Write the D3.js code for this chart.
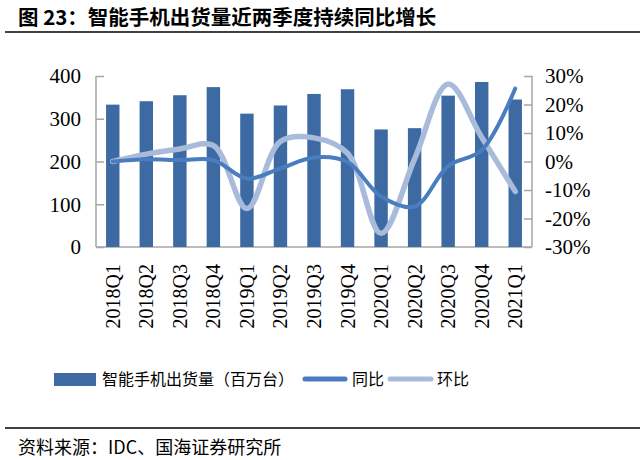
<!DOCTYPE html>
<meta charset="utf-8">
<script src="https://d3js.org/d3.v7.min.js"></script>
<style>
  body { margin: 0; background: #fff; }
  svg { display: block; }
</style>
<body>
<div id="chart"></div>
<script>
// quarters, shipments (million units), YoY and QoQ (%)
var quarters = ["2018Q1", "2018Q2", "2018Q3", "2018Q4", "2019Q1", "2019Q2", "2019Q3",
                "2019Q4", "2020Q1", "2020Q2", "2020Q3", "2020Q4", "2021Q1"];
var shipments = [333, 341, 355, 374, 312, 331, 358, 369, 275, 278, 354, 386, 345];
var yoy = [0, 0.8, 0.5, 0.5, -6.0, -2.4, 1.4, -0.2, -12.3, -15.8, -1.6, 4.0, 25.6];
var qoq = [0, 2.6, 4.4, 5.6, -16.5, 7.0, 8.3, 2.9, -25.2, 0.9, 27.2, 8.5, -10.5];
var leftTicks = [0, 100, 200, 300, 400];
var rightTicks = [-30, -20, -10, 0, 10, 20, 30];

var W = 640, H = 460;
var plot = {left: 96, right: 532, top: 76, bottom: 247};

var svg = d3.select("#chart").append("svg")
  .attr("width", W)
  .attr("height", H);

var cjk = "'Noto Sans CJK SC', sans-serif";
var serif = "'Liberation Serif', 'Times New Roman', serif";

// title
svg.append("text")
  .attr("x", 18).attr("y", 25)
  .style("font-family", cjk)
  .style("font-weight", "bold")
  .style("font-size", "20.5px")
  .text("图 23：智能手机出货量近两季度持续同比增长");
svg.append("line")
  .attr("x1", 5).attr("x2", W).attr("y1", 32).attr("y2", 32)
  .attr("stroke", "#000").attr("stroke-width", 1.5);

var x = d3.scaleBand()
  .domain(quarters)
  .range([plot.left, plot.right])
  .paddingInner(0.6)
  .paddingOuter(0.3);

var yL = d3.scaleLinear().domain([0, 400]).range([plot.bottom, plot.top]);
var yR = d3.scaleLinear().domain([-30, 30]).range([plot.bottom, plot.top]);

// axes
var axisColor = "#a6a6a6";
var gL = svg.append("g")
  .attr("transform", "translate(" + plot.left + ",0)")
  .call(d3.axisRight(yL).tickValues(leftTicks).tickSize(8).tickFormat(""));
var gR = svg.append("g")
  .attr("transform", "translate(" + plot.right + ",0)")
  .call(d3.axisLeft(yR).tickValues(rightTicks).tickSize(8).tickFormat(""));
var gB = svg.append("g")
  .attr("transform", "translate(0," + plot.bottom + ")")
  .call(d3.axisBottom(x).tickSize(0).tickFormat(""));
[gL, gR, gB].forEach(function(g) {
  g.selectAll("path, line").attr("stroke", axisColor).attr("stroke-width", 1.5);
  g.select(".domain").attr("d", g === gB
    ? "M" + plot.left + ",0H" + plot.right
    : "M0," + plot.top + "V" + plot.bottom);
});

// tick labels
svg.selectAll(".ltick").data(leftTicks).enter().append("text")
  .attr("x", 81).attr("y", function(d) { return yL(d); })
  .attr("dy", "0.35em")
  .attr("text-anchor", "end")
  .style("font-family", serif).style("font-size", "21px")
  .text(function(d) { return d; });

svg.selectAll(".rtick").data(rightTicks).enter().append("text")
  .attr("x", 545).attr("y", function(d) { return yR(d); })
  .attr("dy", "0.35em")
  .style("font-family", serif).style("font-size", "21px")
  .text(function(d) { return d + "%"; });

svg.selectAll(".xtick").data(quarters).enter().append("text")
  .attr("transform", function(d) {
    return "translate(" + (x(d) + x.bandwidth() / 2) + ",264) rotate(-90)";
  })
  .attr("dy", "0.35em")
  .attr("text-anchor", "end")
  .style("font-family", serif).style("font-size", "20px")
  .text(function(d) { return d; });

// bars
var barColor = "#3d6aa3";
svg.selectAll(".bar").data(shipments).enter().append("rect")
  .attr("x", function(d, i) { return x(quarters[i]); })
  .attr("y", function(d) { return yL(d); })
  .attr("width", x.bandwidth())
  .attr("height", function(d) { return yL(0) - yL(d); })
  .attr("fill", barColor);

// lines
var line = d3.line()
  .x(function(d, i) { return x(quarters[i]) + x.bandwidth() / 2; })
  .y(function(d) { return yR(d); })
  .curve(d3.curveCatmullRom.alpha(0.5));

var yoyColor = "#4a7dbf", qoqColor = "#a9bbdb";
svg.append("path").datum(qoq)
  .attr("d", line).attr("fill", "none")
  .attr("stroke", qoqColor).attr("stroke-width", 5.5)
  .attr("stroke-linecap", "round");
svg.append("path").datum(yoy)
  .attr("d", line).attr("fill", "none")
  .attr("stroke", yoyColor).attr("stroke-width", 4)
  .attr("stroke-linecap", "round");

// legend
var lg = svg.append("g").style("font-family", cjk).style("font-size", "16px");
lg.append("rect").attr("x", 54).attr("y", 373).attr("width", 42).attr("height", 13).attr("fill", barColor);
lg.append("text").attr("x", 102).attr("y", 385).text("智能手机出货量（百万台）");
lg.append("line").attr("x1", 305).attr("x2", 345).attr("y1", 379).attr("y2", 379)
  .attr("stroke", yoyColor).attr("stroke-width", 5).attr("stroke-linecap", "round");
lg.append("text").attr("x", 352).attr("y", 385).text("同比");
lg.append("line").attr("x1", 390).attr("x2", 431).attr("y1", 379).attr("y2", 379)
  .attr("stroke", qoqColor).attr("stroke-width", 5).attr("stroke-linecap", "round");
lg.append("text").attr("x", 437).attr("y", 385).text("环比");

// source
svg.append("line")
  .attr("x1", 5).attr("x2", W).attr("y1", 428).attr("y2", 428)
  .attr("stroke", "#000").attr("stroke-width", 1.5);
svg.append("text")
  .attr("x", 18).attr("y", 454)
  .style("font-family", cjk).style("font-size", "18px")
  .text("资料来源：IDC、国海证券研究所");
</script>
</body>
